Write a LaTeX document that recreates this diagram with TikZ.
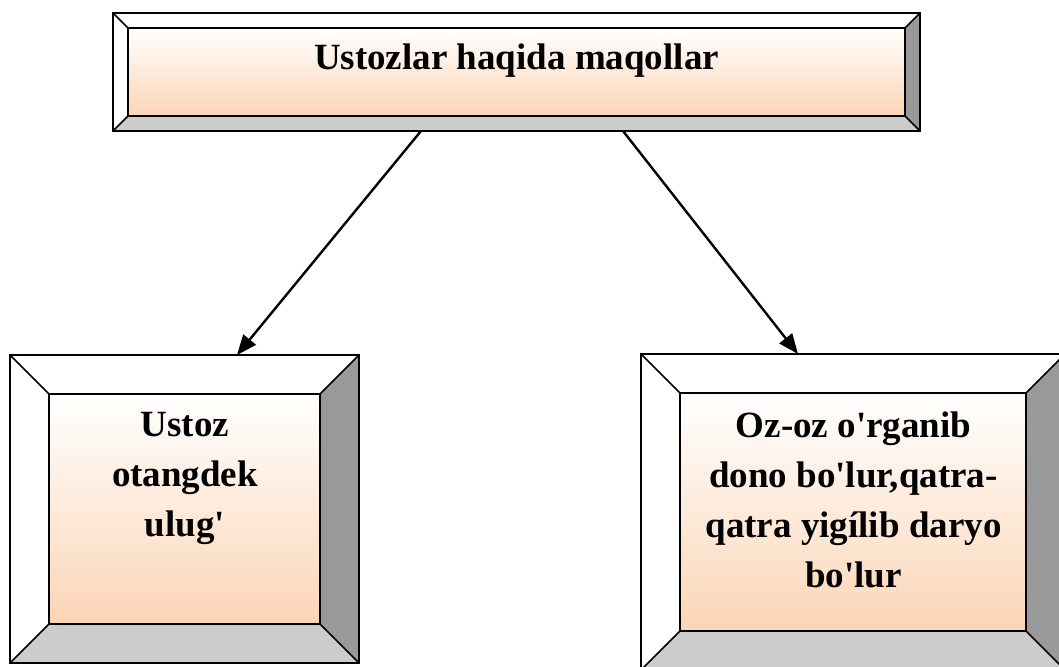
\documentclass[tikz,border=0pt]{standalone}
\usepackage{fontspec}
\setmainfont{Liberation Serif}
\usetikzlibrary{arrows.meta,fit}
\definecolor{peach}{RGB}{251,213,182}
\definecolor{bvdark}{RGB}{153,153,153}
\definecolor{bvlight}{RGB}{204,204,204}
\tikzset{
  bvline/.style={line width=1.6pt, black},
  arr/.style={line width=2.4pt, -{Triangle[length=20pt,width=16pt]}},
  txt/.style={font=\bfseries\fontsize{37}{50}\selectfont, inner sep=0pt, align=center},
  holder/.style={inner sep=0pt, outer sep=0pt}
}
\newcommand\ap{\textquotesingle}
% name, x1, y1, x2, y2, bevel
\newcommand\bevbox[6]{%
  \fill[white] (#2,#3) -- (#4,#3) -- (#4-#6,#3+#6) -- (#2+#6,#3+#6) -- cycle;
  \fill[white] (#2,#3) -- (#2+#6,#3+#6) -- (#2+#6,#5-#6) -- (#2,#5) -- cycle;
  \fill[bvdark] (#4,#3) -- (#4,#5) -- (#4-#6,#5-#6) -- (#4-#6,#3+#6) -- cycle;
  \fill[bvlight] (#2,#5) -- (#4,#5) -- (#4-#6,#5-#6) -- (#2+#6,#5-#6) -- cycle;
  \shade[top color=white, bottom color=peach] (#2+#6,#3+#6) rectangle (#4-#6,#5-#6);
  \draw[bvline] (#2,#3) rectangle (#4,#5);
  \draw[bvline] (#2+#6,#3+#6) rectangle (#4-#6,#5-#6);
  \draw[bvline] (#2,#3) -- (#2+#6,#3+#6) (#4,#3) -- (#4-#6,#3+#6)
                (#4,#5) -- (#4-#6,#5-#6) (#2,#5) -- (#2+#6,#5-#6);
  \node[holder, fit={(#2,#3) (#4,#5)}] (#1) {};
}
\begin{document}
\begin{tikzpicture}[x=1pt,y=-1pt]
\useasboundingbox (0,0) rectangle (1059,666);
\begin{scope}
\clip (0,0) rectangle (1059,666);
\bevbox{topb}{113}{13}{920}{131}{15}
\bevbox{lb}{10}{355}{359}{663}{39}
\bevbox{rb}{641}{354}{1065}{670}{39}
\end{scope}
\node[txt, anchor=base] (ttop) at (516.5,70) {Ustozlar haqida maqollar};
\node[txt, anchor=north] (tleft) at (185,412) {Ustoz\\otangdek\\ulug\ap};
\node[txt, anchor=north] (tright) at (853.5,412) {Oz-oz o\ap rganib\\dono bo\ap lur,qatra-\\qatra yigílib daryo\\bo\ap lur};
\draw[arr] ([xshift=308pt]topb.south west) -- ([xshift=227pt]lb.north west);
\draw[arr] ([xshift=510pt]topb.south west) -- ([xshift=157pt]rb.north west);
\end{tikzpicture}
\end{document}
